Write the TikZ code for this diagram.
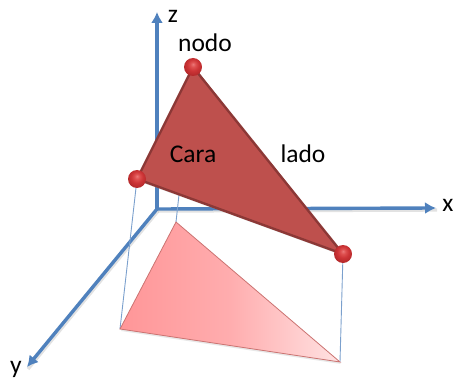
\documentclass[tikz,border=0pt]{standalone}
\usepackage{fontspec}
\setmainfont{Carlito}
\usetikzlibrary{arrows.meta}
\definecolor{axisblue}{RGB}{79,129,189}
\definecolor{facered}{RGB}{190,80,77}
\definecolor{edgered}{RGB}{140,56,54}
\definecolor{shadeA}{RGB}{255,150,152}
\definecolor{shadeB}{RGB}{255,226,226}
\definecolor{ballA}{RGB}{236,120,120}
\definecolor{ballB}{RGB}{222,80,80}
\definecolor{ballC}{RGB}{205,52,54}
\definecolor{ballD}{RGB}{178,40,42}
\definecolor{ballE}{RGB}{150,34,36}
\pgfdeclareradialshading{redball}{\pgfpoint{0bp}{8bp}}{
  color(0bp)=(ballA);
  color(7bp)=(ballB);
  color(16bp)=(ballC);
  color(28bp)=(ballD);
  color(36bp)=(ballE);
  color(50bp)=(ballE)}
\tikzset{
  axisline/.style={draw=axisblue,line width=3.4pt,-{Latex[length=11pt,width=12pt]}},
  axisshadow/.style={draw=black!45,opacity=.25,line width=3.4pt},
  drop/.style={draw=axisblue!75,line width=.9pt},
  ballnode/.style={circle,minimum size=18pt,inner sep=0pt,shading=redball},
  lab/.style={font=\fontsize{25.5}{28}\selectfont,text=black,inner sep=0pt,anchor=base}
}
\begin{document}
\begin{tikzpicture}[x=1pt,y=-1pt]
\useasboundingbox (0,0) rectangle (454,379);
\coordinate (O) at (157,209);
\coordinate (Z) at (157,12);
\coordinate (X) at (436,208);
\coordinate (Y) at (27,367);
\coordinate (A) at (193,67);
\coordinate (B) at (137,179);
\coordinate (C) at (343,254);
\coordinate (SA) at (176,222);
\coordinate (SB) at (120,329);
\coordinate (SC) at (340,362);
% axes
\draw[axisshadow] ([shift={(1,2)}]O) -- ([shift={(1,2)}]X);
\draw[axisshadow] ([shift={(1,2)}]O) -- ([shift={(1,2)}]Y);
\draw[axisline] (O) -- (Z);
\draw[axisline] (O) -- (X);
\draw[axisline] (O) -- (Y);
% projection
\draw[drop] (A) -- (SA);
\draw[drop] (B) -- (SB);
\draw[drop] (C) -- (SC);
\fill[black!30,opacity=.3] ([shift={(1,2)}]SA) -- ([shift={(1,2)}]SB) -- ([shift={(1,2)}]SC) -- cycle;
\path[left color=shadeA,right color=shadeB,middle color=shadeA!70!shadeB,draw=facered!80,line width=.8pt] (SA) -- (SB) -- (SC) -- cycle;
% face
\fill[black!40,opacity=.3] ([shift={(1,2)}]A) -- ([shift={(1,2)}]B) -- ([shift={(1,2)}]C) -- cycle;
\draw[fill=facered,draw=edgered,line width=2.4pt,line join=round] (A) -- (B) -- (C) -- cycle;
% nodes
\node[ballnode] (nA) at (A) {};
\node[ballnode] (nB) at (B) {};
\node[ballnode] (nC) at (C) {};
% labels
\node[lab] (tz) at (173,23) {z};
\node[lab] (tnodo) at (205,52) {nodo};
\node[lab] (tcara) at (193,163) {Cara};
\node[lab] (tlado) at (303,163) {lado};
\node[lab] (tx) at (448,211) {x};
\node[lab] (ty) at (16,373) {y};
\end{tikzpicture}
\end{document}
